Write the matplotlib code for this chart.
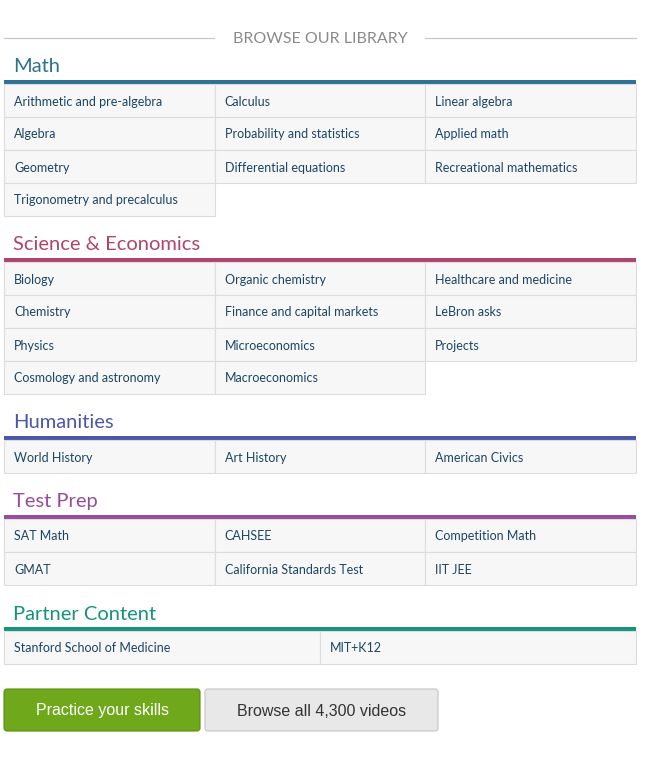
import matplotlib
matplotlib.use("Agg")
import matplotlib.pyplot as plt
from matplotlib.patches import Rectangle, FancyBboxPatch

header = "BROWSE OUR LIBRARY"
sections = ["Math", "Science & Economics", "Humanities", "Test Prep", "Partner Content"]
section_colors = ["#2d7292", "#b0446c", "#4d56a5", "#974d9a", "#16937a"]
math_items = ["Arithmetic and pre-algebra", "Calculus", "Linear algebra",
              "Algebra", "Probability and statistics", "Applied math",
              "Geometry", "Differential equations", "Recreational mathematics",
              "Trigonometry and precalculus"]
science_items = ["Biology", "Organic chemistry", "Healthcare and medicine",
                 "Chemistry", "Finance and capital markets", "LeBron asks",
                 "Physics", "Microeconomics", "Projects",
                 "Cosmology and astronomy", "Macroeconomics"]
humanities_items = ["World History", "Art History", "American Civics"]
testprep_items = ["SAT Math", "CAHSEE", "Competition Math",
                  "GMAT", "California Standards Test", "IIT JEE"]
partner_items = ["Stanford School of Medicine", "MIT+K12"]
buttons = ["Practice your skills", "Browse all 4,300 videos"]

items = [math_items, science_items, humanities_items, testprep_items, partner_items]
ncols = [3, 3, 3, 3, 2]
title_y = [66, 244, 422, 501, 613]

plt.rcParams["font.family"] = "Lato"
fig = plt.figure(figsize=(6.48, 7.61), dpi=100)
ax = fig.add_axes([0, 0, 1, 1])
ax.set_xlim(0, 648); ax.set_ylim(761, 0); ax.axis("off")

ax.plot([4, 214], [38, 38], color="#c8c8c8", lw=0.9)
ax.plot([425, 636], [38, 38], color="#c8c8c8", lw=0.9)
ax.text(320, 39, header, ha="center", va="center", fontsize=11.5, color="#8a8a8a")

L, R, RH = 4, 636, 33
for sec, col, its, nc, ty in zip(sections, section_colors, items, ncols, title_y):
    ax.text(13, ty + 1, sec, ha="left", va="center", fontsize=14.5, color=col)
    ax.add_patch(Rectangle((L, ty + 14), R - L, 4, color=col, lw=0))
    cw = (R - L) / nc
    top = ty + 18
    for i, t in enumerate(its):
        r, c = divmod(i, nc)
        x0, y0 = L + c * cw, top + r * RH
        ax.add_patch(Rectangle((x0, y0), cw, RH, facecolor="#f7f7f7",
                               edgecolor="#dcdcdc", lw=0.8))
        ax.text(x0 + 10, y0 + RH / 2 + 1, t, ha="left", va="center",
                fontsize=9, color="#1c4467")

ax.add_patch(FancyBboxPatch((4, 689), 196, 42, boxstyle="round,pad=0,rounding_size=3",
                            facecolor="#6fa81a", edgecolor="#5a8d12", lw=0.8))
ax.text(102, 711, buttons[0], ha="center", va="center", fontsize=11.5,
        color="white", family="Liberation Sans")
ax.add_patch(FancyBboxPatch((205, 689), 233, 42, boxstyle="round,pad=0,rounding_size=3",
                            facecolor="#e8e8e8", edgecolor="#c4c4c4", lw=0.8))
ax.text(322, 711, buttons[1], ha="center", va="center", fontsize=11.5,
        color="#333333", family="Liberation Sans")

fig.savefig("out.png", dpi=100)
